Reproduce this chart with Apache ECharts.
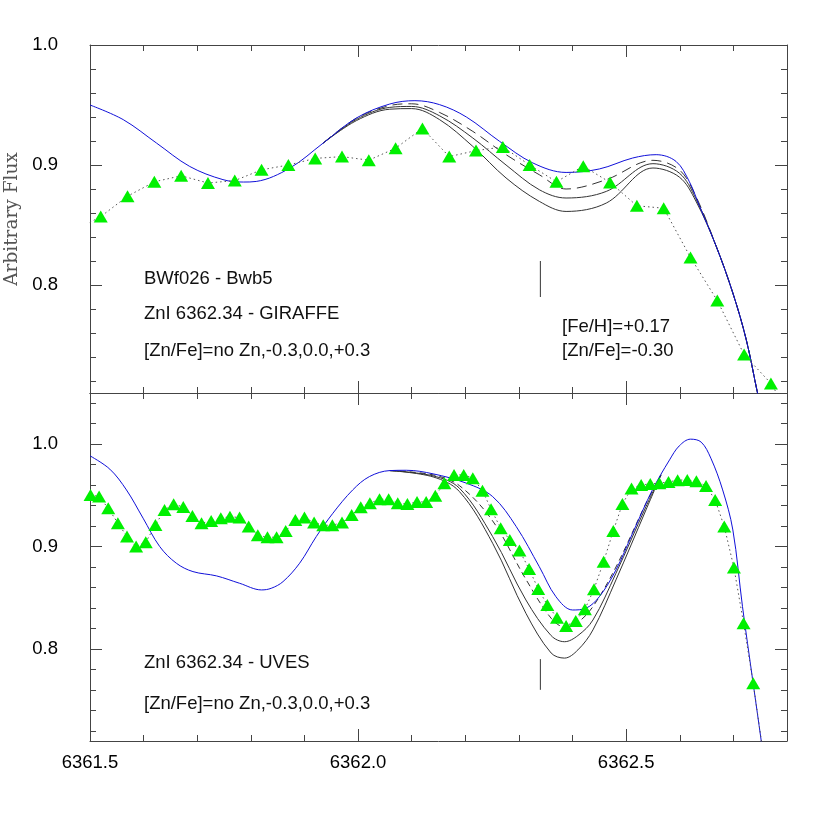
<!DOCTYPE html>
<html>
<head>
<meta charset="utf-8">
<script src="https://cdn.jsdelivr.net/npm/echarts@6/dist/echarts.min.js"></script>
<style>html,body{margin:0;padding:0;background:#fff}#c{width:830px;height:830px}</style>
</head>
<body>
<div id="c"></div>
<script>
// ---------------- DATA ----------------
// Top panel (GIRAFFE) observed points
const topObsX = [6361.47, 6361.52, 6361.57, 6361.62, 6361.67, 6361.72, 6361.77, 6361.82, 6361.87, 6361.92, 6361.97, 6362.02, 6362.07, 6362.12, 6362.17, 6362.22, 6362.27, 6362.32, 6362.37, 6362.42, 6362.47, 6362.52, 6362.57, 6362.62, 6362.67, 6362.72, 6362.77, 6362.82];
const topObsY = [0.845, 0.857, 0.874, 0.886, 0.891, 0.885, 0.887, 0.896, 0.900, 0.9055, 0.907, 0.904, 0.914, 0.9305, 0.907, 0.912, 0.915, 0.900, 0.886, 0.899, 0.8855, 0.866, 0.864, 0.823, 0.787, 0.742, 0.718, 0.68];
// Top panel synthetic: no Zn (blue)
const topNoZnX = [6361.5, 6361.562, 6361.624, 6361.686, 6361.748, 6361.786, 6361.81, 6361.873, 6361.935, 6361.997, 6362.059, 6362.106, 6362.152, 6362.202, 6362.264, 6362.326, 6362.388, 6362.45, 6362.512, 6362.556, 6362.593, 6362.618, 6362.637, 6362.668, 6362.699, 6362.724, 6362.745, 6362.76];
const topNoZnY = [0.950, 0.9378, 0.9183, 0.8988, 0.8878, 0.8858, 0.8863, 0.8975, 0.9183, 0.9392, 0.9508, 0.9536, 0.9503, 0.940, 0.9197, 0.9017, 0.8938, 0.8967, 0.9058, 0.9086, 0.903, 0.886, 0.8655, 0.8322, 0.7933, 0.7544, 0.71, 0.68];
// Top panel synthetic: [Zn/Fe] = -0.3 (dashed), 0.0, +0.3
const topModX = [6361.935, 6361.997, 6362.059, 6362.10, 6362.152, 6362.214, 6362.276, 6362.338, 6362.388, 6362.463, 6362.55, 6362.599, 6362.63, 6362.668, 6362.699, 6362.724, 6362.745, 6362.76];
const topM03Y = [0.9183, 0.9390, 0.9495, 0.9510, 0.9438, 0.9280, 0.9086, 0.8919, 0.8800, 0.8878, 0.9039, 0.8960, 0.8740, 0.8322, 0.7933, 0.7544, 0.71, 0.68];
const topZ00Y = [0.9183, 0.9380, 0.9480, 0.9488, 0.9410, 0.9225, 0.9000, 0.8794, 0.8725, 0.8780, 0.9011, 0.8933, 0.8720, 0.8322, 0.7933, 0.7544, 0.71, 0.68];
const topP03Y = [0.9183, 0.9370, 0.9465, 0.9470, 0.9378, 0.9155, 0.8892, 0.8697, 0.8613, 0.8683, 0.8975, 0.8900, 0.8700, 0.8322, 0.7933, 0.7544, 0.71, 0.68];

// Bottom panel (UVES) observed points
const botObsX = [6361.501, 6361.517, 6361.534, 6361.552, 6361.569, 6361.586, 6361.604, 6361.622, 6361.639, 6361.656, 6361.674, 6361.691, 6361.708, 6361.726, 6361.744, 6361.761, 6361.779, 6361.796, 6361.813, 6361.831, 6361.848, 6361.865, 6361.883, 6361.900, 6361.918, 6361.935, 6361.952, 6361.970, 6361.988, 6362.005, 6362.022, 6362.040, 6362.057, 6362.074, 6362.092, 6362.110, 6362.127, 6362.144, 6362.161, 6362.179, 6362.197, 6362.214, 6362.232, 6362.248, 6362.266, 6362.283, 6362.301, 6362.319, 6362.336, 6362.353, 6362.371, 6362.388, 6362.406, 6362.423, 6362.440, 6362.458, 6362.476, 6362.493, 6362.510, 6362.528, 6362.545, 6362.562, 6362.579, 6362.596, 6362.614, 6362.631, 6362.649, 6362.666, 6362.683, 6362.701, 6362.719, 6362.737, 6362.755];
const botObsY = [0.9504, 0.9488, 0.9374, 0.9228, 0.9097, 0.9000, 0.9042, 0.9211, 0.9358, 0.9413, 0.9387, 0.9299, 0.9228, 0.9250, 0.9277, 0.9292, 0.9283, 0.9195, 0.9110, 0.9091, 0.9091, 0.9152, 0.9260, 0.9283, 0.9234, 0.9208, 0.9208, 0.9234, 0.9309, 0.9384, 0.9423, 0.9462, 0.9462, 0.9423, 0.9416, 0.9436, 0.9436, 0.9495, 0.9619, 0.9700, 0.9700, 0.9668, 0.9546, 0.9365, 0.9179, 0.9064, 0.8960, 0.8781, 0.8585, 0.8429, 0.8305, 0.8224, 0.8273, 0.8387, 0.8583, 0.8852, 0.9152, 0.9416, 0.9566, 0.9602, 0.9612, 0.9619, 0.9631, 0.9648, 0.9651, 0.9638, 0.9592, 0.9455, 0.9195, 0.8794, 0.8250, 0.7664, 0.70];
// Bottom panel synthetic: no Zn (blue)
const botNoZnX = [6361.5, 6361.537, 6361.568, 6361.599, 6361.630, 6361.661, 6361.692, 6361.736, 6361.779, 6361.82, 6361.838, 6361.86, 6361.891, 6361.922, 6361.953, 6361.99, 6362.021, 6362.059, 6362.09, 6362.14, 6362.202, 6362.251, 6362.295, 6362.338, 6362.369, 6362.40, 6362.425, 6362.45, 6362.481, 6362.512, 6362.549, 6362.581, 6362.599, 6362.62, 6362.64, 6362.658, 6362.68, 6362.699, 6362.717, 6362.736, 6362.752, 6362.76];
const botNoZnY = [0.9886, 0.9756, 0.9553, 0.9277, 0.9000, 0.8837, 0.8755, 0.8713, 0.8641, 0.8576, 0.8592, 0.8657, 0.8837, 0.9097, 0.9325, 0.9553, 0.9683, 0.9742, 0.9745, 0.9710, 0.9619, 0.9488, 0.9195, 0.8803, 0.8510, 0.8380, 0.8397, 0.8510, 0.8771, 0.9130, 0.9553, 0.9847, 0.9983, 1.0049, 1.0020, 0.9863, 0.9553, 0.9162, 0.8413, 0.7696, 0.71, 0.68];
// Bottom panel synthetic: [Zn/Fe] = -0.3 (dashed), 0.0, +0.3
const botModX = [6362.059, 6362.14, 6362.189, 6362.251, 6362.313, 6362.36, 6362.385, 6362.41, 6362.438, 6362.481, 6362.537, 6362.565];
const botM03Y = [0.9742, 0.9700, 0.9595, 0.9250, 0.8680, 0.8300, 0.8215, 0.8260, 0.8413, 0.8800, 0.9423, 0.9700];
const botZ00Y = [0.9742, 0.9690, 0.9570, 0.9097, 0.8478, 0.8130, 0.8070, 0.8130, 0.8282, 0.8739, 0.9390, 0.9700];
const botP03Y = [0.9742, 0.9680, 0.9537, 0.9032, 0.8348, 0.7960, 0.7910, 0.7990, 0.8185, 0.8674, 0.9358, 0.9700];

// Line position markers at 6362.34
const markX = [6362.34, 6362.34];
const topMarkY = [0.79, 0.82];
const botMarkY = [0.76, 0.79];

// Axis tick labels
const xTickLabels = ['6361.5', '6362.0', '6362.5'];
const yTickLabels = ['0.8', '0.9', '1.0'];

// ---------------- CHART ----------------
const pair = (xs, ys) => xs.map((x, i) => [x, ys[i]]);
const AX = '#444';
const FONT = '"Liberation Sans", Arial, Helvetica, sans-serif';
const grids = [
  {left: 90, top: 45, width: 697, height: 348, yMin: 0.71, yMax: 1.0},
  {left: 90, top: 393, width: 697, height: 348, yMin: 0.71, yMax: 1.05}
];
const xAxis = [], yAxis = [];
grids.forEach((g, gi) => {
  ['bottom', 'top'].forEach(pos => {
    xAxis.push({type: 'value', gridIndex: gi, position: pos, min: 6361.5, max: 6362.8, interval: 0.1,
      axisLine: {show: true, onZero: false, lineStyle: {color: AX, width: 1}},
      axisTick: {show: true, inside: true, length: 6, lineStyle: {color: AX}},
      axisLabel: {show: false}, splitLine: {show: false}});
    xAxis.push({type: 'value', gridIndex: gi, position: pos, min: 6361.5, max: 6362.8, interval: 0.5,
      axisLine: {show: false, onZero: false},
      axisTick: {show: true, inside: true, length: 12, lineStyle: {color: AX}},
      axisLabel: {show: gi === 1 && pos === 'bottom', fontSize: 18.5, fontFamily: FONT, color: '#000', margin: 12,
        formatter: v => { const s = v.toFixed(1); return xTickLabels.indexOf(s) >= 0 ? s : ''; }},
      splitLine: {show: false}});
  });
  const cats = [];
  const n = Math.round((g.yMax - g.yMin) * 100);
  for (let k = 0; k <= n; k++) cats.push((g.yMin + k / 100).toFixed(2));
  const hundredths = i => Math.round(g.yMin * 100) + i;
  yAxis.push({type: 'value', gridIndex: gi, position: 'left', min: g.yMin, max: g.yMax, interval: 0.01,
    axisLine: {show: true, onZero: false, lineStyle: {color: AX, width: 1}},
    axisTick: {show: false},
    axisLabel: {show: true, fontSize: 18.5, fontFamily: FONT, color: '#000', margin: 32,
      formatter: v => { const s = v.toFixed(1); return (Math.abs(v * 10 - Math.round(v * 10)) < 1e-6 && yTickLabels.indexOf(s) >= 0) ? s : ''; }},
    splitLine: {show: false}});
  ['left', 'right'].forEach(pos => {
    yAxis.push({type: 'category', gridIndex: gi, position: pos, data: cats, boundaryGap: false,
      axisLine: {show: pos === 'right', onZero: false, lineStyle: {color: AX, width: 1}},
      axisTick: {show: true, inside: true, length: 6, interval: i => hundredths(i) % 2 === 0, lineStyle: {color: AX}},
      axisLabel: {show: false}, splitLine: {show: false}});
    yAxis.push({type: 'category', gridIndex: gi, position: pos, data: cats, boundaryGap: false,
      axisLine: {show: false, onZero: false},
      axisTick: {show: true, inside: true, length: 12, interval: i => hundredths(i) % 10 === 0, lineStyle: {color: AX}},
      axisLabel: {show: false}, splitLine: {show: false}});
  });
});

function model(gi, data, color, type, z) {
  return {type: 'line', xAxisIndex: gi * 4, yAxisIndex: gi * 5, data: data, showSymbol: false, symbol: 'none',
    smooth: 0.35, clip: true, z: z,
    lineStyle: {color: color, width: 1, type: type}};
}
function obs(gi, data) {
  return {type: 'line', xAxisIndex: gi * 4, yAxisIndex: gi * 5, data: data, symbol: 'triangle', symbolSize: [14, 12],
    showSymbol: true, clip: true, z: 10,
    itemStyle: {color: '#00f000', borderWidth: 0},
    lineStyle: {color: '#555', width: 1, type: [1.5, 3]}};
}
function marker(gi, data) {
  return {type: 'line', xAxisIndex: gi * 4, yAxisIndex: gi * 5, data: data, symbol: 'none', z: 3,
    lineStyle: {color: '#333', width: 1}};
}

const series = [
  model(0, pair(topModX, topP03Y), '#333', 'solid', 2),
  model(0, pair(topModX, topZ00Y), '#333', 'solid', 2),
  model(0, pair(topModX, topM03Y), '#333', [10, 6], 2),
  model(0, pair(topNoZnX, topNoZnY), '#1010d8', 'solid', 4),
  obs(0, pair(topObsX, topObsY)),
  marker(0, pair(markX, topMarkY)),
  model(1, pair(botModX, botP03Y), '#333', 'solid', 2),
  model(1, pair(botModX, botZ00Y), '#333', 'solid', 2),
  model(1, pair(botModX, botM03Y), '#333', [6, 4], 2),
  model(1, pair(botNoZnX, botNoZnY), '#1010d8', 'solid', 4),
  obs(1, pair(botObsX, botObsY)),
  marker(1, pair(markX, botMarkY))
];

const txt = (x, y, s) => ({type: 'text', x: x, y: y, z: 20,
  style: {text: s, font: '18.5px ' + FONT, fill: '#111', textAlign: 'left', textVerticalAlign: 'middle'}});

const option = {
  animation: false,
  backgroundColor: '#fff',
  grid: grids.map(g => ({left: g.left, top: g.top, width: g.width, height: g.height, containLabel: false})),
  xAxis: xAxis,
  yAxis: yAxis,
  series: series,
  graphic: [
    txt(144, 279, 'BWf026 - Bwb5'),
    txt(144, 314, 'ZnI 6362.34 - GIRAFFE'),
    txt(144, 351, '[Zn/Fe]=no Zn,-0.3,0.0,+0.3'),
    txt(562, 327, '[Fe/H]=+0.17'),
    txt(562, 351, '[Zn/Fe]=-0.30'),
    txt(144, 663, 'ZnI 6362.34 - UVES'),
    txt(144, 704, '[Zn/Fe]=no Zn,-0.3,0.0,+0.3'),
    {type: 'text', x: 12, y: 219, rotation: Math.PI / 2, z: 20,
      style: {text: 'Arbitrary Flux', font: '18.5px "DejaVu Serif", "Liberation Serif", serif', fill: '#555', textAlign: 'center', textVerticalAlign: 'middle'}}
  ]
};
const chart = echarts.init(document.getElementById('c'), null, {renderer: 'canvas'});
chart.setOption(option);
</script>
</body>
</html>
